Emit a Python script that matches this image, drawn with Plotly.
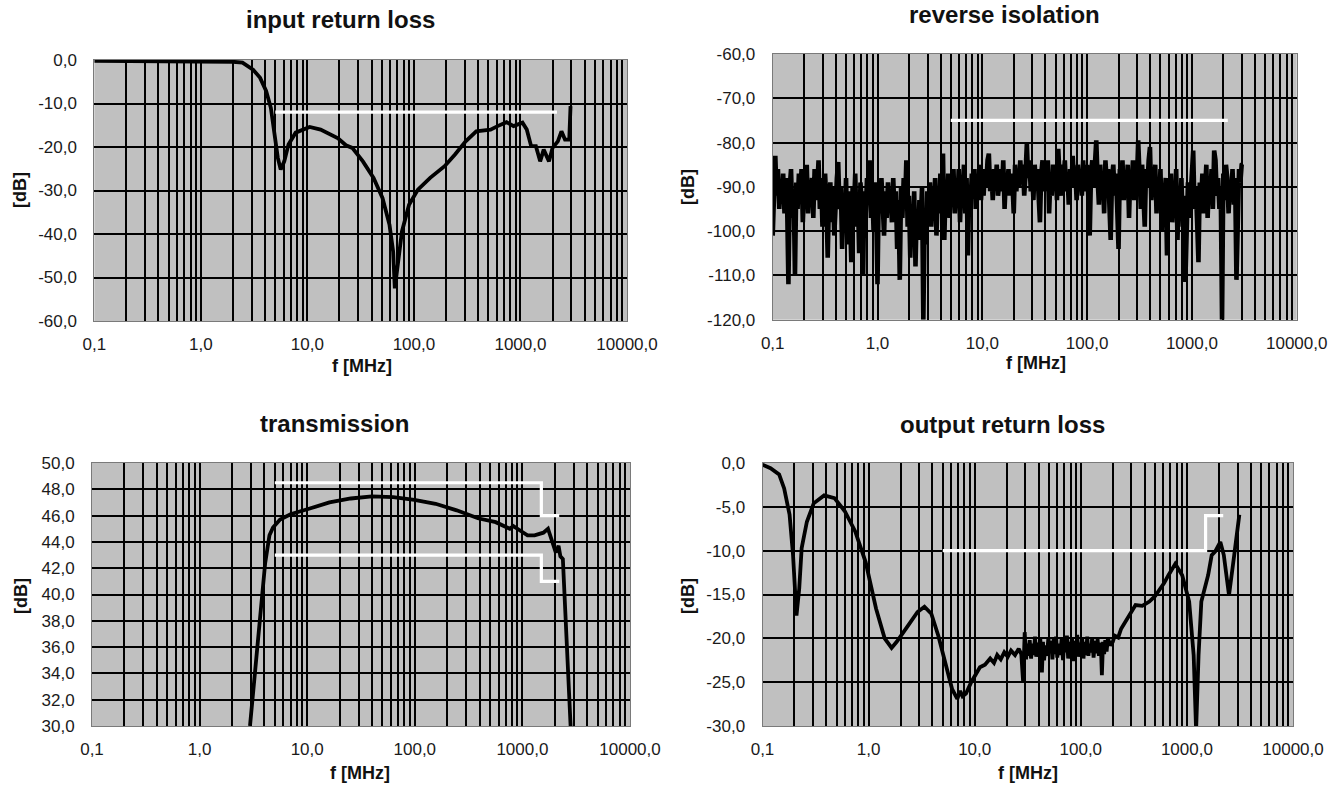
import plotly.graph_objects as go

W, H = 1341, 791

# ---------------- data ----------------
decade_vals = [0.1, 1, 10, 100, 1000, 10000]
decade_text = ["0,1", "1,0", "10,0", "100,0", "1000,0", "10000,0"]

# input return loss
irl_f = [0.1, 0.2, 0.5, 1.0, 1.5, 2.0, 2.46, 3.09, 3.6, 4.1, 4.54, 4.9, 5.28, 5.62, 6.07, 6.65,
         7.76, 10.5, 13.3, 19.4, 23.0, 26.4, 29.0, 33.2, 41.8, 50.7, 59, 63.8, 66.2, 70.4, 77.2,
         90, 109, 142, 194, 243, 306, 385, 524, 610, 740, 862, 1045, 1146, 1260, 1396, 1531,
         1652, 1853, 2001, 2243, 2425, 2618, 2870, 2951]
irl_db = [-0.2, -0.2, -0.2, -0.3, -0.3, -0.4, -0.6, -2.2, -4.1, -7.1, -11, -16.4, -22.5, -25.2,
          -23.3, -19.4, -16.7, -15.4, -16, -18, -19.6, -20.2, -21.4, -23.3, -27.1, -31.7, -37.9,
          -44, -52.5, -47.8, -39.4, -33.3, -29.8, -27.1, -24.4, -21.7, -18.7, -16.4, -16, -15.2,
          -14.3, -15.2, -14.4, -16, -19.8, -19.8, -23.3, -20.6, -23.3, -20.2, -18.7, -16.4,
          -18.3, -18.3, -10.6]
irl_spec_f = [5, 2200]
irl_spec_db = [-12, -12]

# reverse isolation
rev_f = [0.1000, 0.1029, 0.1059, 0.1090, 0.1122, 0.1155, 0.1189, 0.1223, 0.1259, 0.1296,
         0.1334, 0.1373, 0.1413, 0.1454, 0.1496, 0.1540, 0.1585, 0.1631, 0.1679, 0.1728,
         0.1778, 0.1830, 0.1884, 0.1939, 0.1995, 0.2054, 0.2113, 0.2175, 0.2239, 0.2304,
         0.2371, 0.2441, 0.2512, 0.2585, 0.2661, 0.2738, 0.2818, 0.2901, 0.2985, 0.3073,
         0.3162, 0.3255, 0.3350, 0.3447, 0.3548, 0.3652, 0.3758, 0.3868, 0.3981, 0.4097,
         0.4217, 0.4340, 0.4467, 0.4597, 0.4732, 0.4870, 0.5012, 0.5158, 0.5309, 0.5464,
         0.5623, 0.5788, 0.5957, 0.6131, 0.6310, 0.6494, 0.6683, 0.6879, 0.7079, 0.7286,
         0.7499, 0.7718, 0.7943, 0.8175, 0.8414, 0.8660, 0.8913, 0.9173, 0.9441, 0.9716,
         1.000, 1.029, 1.059, 1.090, 1.122, 1.155, 1.189, 1.223, 1.259, 1.296,
         1.334, 1.373, 1.413, 1.454, 1.496, 1.540, 1.585, 1.631, 1.679, 1.728,
         1.778, 1.830, 1.884, 1.939, 1.995, 2.054, 2.113, 2.175, 2.239, 2.304,
         2.371, 2.441, 2.512, 2.585, 2.661, 2.738, 2.818, 2.901, 2.985, 3.073,
         3.162, 3.255, 3.350, 3.447, 3.548, 3.652, 3.758, 3.868, 3.981, 4.097,
         4.217, 4.340, 4.467, 4.597, 4.732, 4.870, 5.012, 5.158, 5.309, 5.464,
         5.623, 5.788, 5.957, 6.131, 6.310, 6.494, 6.683, 6.879, 7.079, 7.286,
         7.499, 7.718, 7.943, 8.175, 8.414, 8.660, 8.913, 9.173, 9.441, 9.716,
         10.00, 10.29, 10.59, 10.90, 11.22, 11.55, 11.89, 12.23, 12.59, 12.96,
         13.34, 13.73, 14.13, 14.54, 14.96, 15.40, 15.85, 16.31, 16.79, 17.28,
         17.78, 18.30, 18.84, 19.39, 19.95, 20.54, 21.13, 21.75, 22.39, 23.04,
         23.71, 24.41, 25.12, 25.85, 26.61, 27.38, 28.18, 29.01, 29.85, 30.73,
         31.62, 32.55, 33.50, 34.47, 35.48, 36.52, 37.58, 38.68, 39.81, 40.97,
         42.17, 43.40, 44.67, 45.97, 47.32, 48.70, 50.12, 51.58, 53.09, 54.64,
         56.23, 57.88, 59.57, 61.31, 63.10, 64.94, 66.83, 68.79, 70.79, 72.86,
         74.99, 77.18, 79.43, 81.75, 84.14, 86.60, 89.13, 91.73, 94.41, 97.16,
         100.0, 102.9, 105.9, 109.0, 112.2, 115.5, 118.9, 122.3, 125.9, 129.6,
         133.4, 137.3, 141.3, 145.4, 149.6, 154.0, 158.5, 163.1, 167.9, 172.8,
         177.8, 183.0, 188.4, 193.9, 199.5, 205.4, 211.3, 217.5, 223.9, 230.4,
         237.1, 244.1, 251.2, 258.5, 266.1, 273.8, 281.8, 290.1, 298.5, 307.3,
         316.2, 325.5, 335.0, 344.7, 354.8, 365.2, 375.8, 386.8, 398.1, 409.7,
         421.7, 434.0, 446.7, 459.7, 473.2, 487.0, 501.2, 515.8, 530.9, 546.4,
         562.3, 578.8, 595.7, 613.1, 631.0, 649.4, 668.3, 687.9, 707.9, 728.6,
         749.9, 771.8, 794.3, 817.5, 841.4, 866.0, 891.3, 917.3, 944.1, 971.6,
         1000, 1029, 1059, 1090, 1122, 1155, 1189, 1223, 1259, 1296,
         1334, 1373, 1413, 1454, 1496, 1540, 1585, 1631, 1679, 1728,
         1778, 1830, 1884, 1939, 1995, 2054, 2113, 2175, 2239, 2304,
         2371, 2441, 2512, 2585, 2661, 2738, 2818, 2901, 2985, 3073]
rev_db = [-101, -88, -83, -92, -86, -95, -89, -93, -87, -96,
          -88, -94, -112, -90, -86, -97, -91, -110, -89, -95,
          -87, -93, -86, -98, -90, -94, -85, -96, -89, -92,
          -88, -97, -86, -93, -90, -84, -95, -88, -99, -91,
          -87, -94, -106, -92, -89, -98, -90, -101, -93, -88,
          -84.4, -95, -90, -104, -92, -97, -88, -103, -91, -96,
          -107, -90, -95, -87, -99, -92, -105, -89, -94, -110,
          -91, -96, -88, -93, -84, -97, -90, -100, -89, -95,
          -112, -90, -96, -88, -94, -101, -91, -97, -89, -95,
          -92, -98, -88, -96, -91, -104, -93, -111, -90, -97,
          -88, -95, -84, -99, -92, -106, -94, -100, -91, -108,
          -95, -102, -93, -98, -90, -120, -97, -103, -91, -96,
          -89, -99, -92, -95, -88, -101, -91, -96, -87, -94,
          -82.5, -102, -90, -95, -87, -97, -89, -93, -86, -96,
          -90, -94, -86, -98, -89, -92, -85, -96, -88, -105.5,
          -91, -94, -87, -92, -86, -95, -89, -91, -85, -93,
          -88, -92, -86, -90, -84, -82.5, -91, -87, -93, -86,
          -90, -85, -92, -88, -86, -91, -84, -95, -88, -90,
          -86, -92, -87, -89, -96, -85, -91, -86, -90, -84,
          -89, -85, -92, -87, -80.3, -88, -84, -91, -86, -93,
          -85, -90, -86, -92, -98, -87, -84, -91, -86, -89,
          -84, -96, -88, -92, -85, -90, -86, -93, -81.4, -88,
          -92, -85, -89, -84, -91, -87, -94, -86, -90, -83,
          -89, -86, -93, -85, -90, -87, -92, -84, -91, -88,
          -85, -93, -101, -87, -84, -90, -86, -79.5, -88, -94,
          -85, -91, -87, -96, -84, -89, -86, -93, -102, -88,
          -85, -92, -87, -95, -104, -86, -90, -84, -93, -88,
          -91, -85, -97, -87, -90, -84, -93, -86, -89, -79.5,
          -88, -95, -85, -91, -99, -86, -90, -84, -81, -93,
          -87, -92, -85, -96, -89, -94, -86, -100, -90, -93,
          -88, -105.5, -90, -95, -87, -98, -91, -94, -86, -102,
          -90, -96, -88, -99, -92, -111.5, -94, -89, -97, -91,
          -86, -81.8, -95, -90, -98, -107, -89, -94, -87, -96,
          -91, -85, -97, -88, -93, -86, -95, -81.8, -84, -92,
          -88, -95, -90, -120, -87, -93, -85, -88, -96, -89,
          -92, -86, -94, -88, -111, -90, -86, -89, -85, -84.8]
rev_spec_f = [5, 2200]
rev_spec_db = [-75, -75]

# transmission
tr_f = [2.94, 3.3, 3.69, 4.07, 4.46, 4.81, 5.6, 7.0, 10.2, 16.1, 25.4, 40, 63, 99, 156, 245,
        386, 565, 763, 824, 959, 1115, 1297, 1567, 1729, 1863, 2042, 2168, 2254, 2377, 2466,
        2600, 2805]
tr_db = [30, 34.3, 39.1, 42.4, 44.5, 45.1, 45.7, 46.1, 46.5, 47.0, 47.3, 47.46, 47.4, 47.2,
         46.9, 46.4, 45.8, 45.5, 45.0, 45.2, 44.85, 44.5, 44.5, 44.7, 45.0, 44.2, 43.2, 43.7,
         42.9, 42.7, 39.9, 35.3, 30]
tr_spec_hi_f = [5, 1500, 1500, 2200]
tr_spec_hi_db = [48.5, 48.5, 46, 46]
tr_spec_lo_f = [5, 1500, 1500, 2200]
tr_spec_lo_db = [43, 43, 41, 41]

# output return loss
orl_f = [0.1, 0.119, 0.1435, 0.160, 0.18, 0.194, 0.209, 0.222, 0.234, 0.262, 0.304, 0.381,
         0.477, 0.597, 0.748, 0.938, 1.175, 1.417, 1.647, 1.84, 2.31, 2.89, 3.36, 3.9, 4.54,
         5.27, 6.13, 6.86, 7.3, 7.68, 8.28, 9.27, 10.2, 11.2, 12.5, 14, 15.2, 16.3, 17.6, 19,
         20.5, 22, 24, 26, 27.5, 28.6, 29.6, 30.5, 31.2, 32, 33, 34, 35, 36, 37, 38, 39, 40,
         41.5, 43, 44, 45, 46.5, 48, 49.5, 51, 52.5, 54, 55.5, 57, 58.5, 60, 62, 64, 66, 68,
         70, 72, 74, 76, 78, 80, 82.5, 85, 87.5, 90, 92.5, 95, 97.5, 100, 103, 106, 109, 112,
         115, 118, 121, 125, 128, 132, 136, 140, 144, 148, 152, 155, 158, 162, 166, 170, 175,
         180, 190, 200, 209, 225, 240, 262, 290, 328, 380, 443, 500, 555, 610, 670, 777, 903,
         1050, 1158, 1221, 1288, 1368, 1585, 1713, 1845, 2066, 2228, 2494, 2793, 3120]
orl_db = [-0.2, -0.6, -1.3, -2.9, -5.9, -10.5, -17.4, -14.3, -9.7, -6.7, -4.6, -3.7, -4.0,
          -5.5, -7.8, -11.3, -16.6, -20.0, -21.1, -20.4, -18.7, -17.0, -16.4, -17.2, -19.7,
          -22.7, -25.8, -26.9, -26.0, -26.6, -26.3, -25.0, -24.2, -23.3, -23.0, -22.3, -22.8,
          -21.9, -22.4, -21.6, -22.1, -21.4, -21.9, -21.2, -21.8, -25.0, -19.3, -22.4, -20.6,
          -22.0, -20.2, -22.3, -20.6, -21.9, -19.8, -22.1, -20.5, -21.6, -20.0, -23.9, -20.4,
          -22.5, -20.8, -22.0, -19.9, -21.7, -20.3, -22.4, -20.1, -21.8, -19.8, -22.2, -20.6,
          -21.9, -20.0, -22.5, -20.2, -21.6, -19.7, -22.3, -20.4, -21.8, -19.9, -22.6, -20.3,
          -21.5, -19.6, -22.1, -20.5, -21.4, -20.0, -22.3, -20.4, -21.9, -19.8, -22.0, -20.6,
          -21.6, -19.9, -22.2, -20.3, -21.7, -20.1, -22.0, -20.5, -21.2, -24.2, -20.4, -21.8,
          -20.2, -21.5, -20.0, -20.8, -20.4, -19.7, -19.9, -18.9, -18.1, -17.3, -16.2, -16.3,
          -15.8, -15.2, -14.5, -13.7, -12.8, -11.5, -12.8, -15.8, -21.9, -30.5, -21.9, -15.8,
          -12.8, -10.5, -10.1, -9.0, -10.5, -15.1, -10.5, -5.9]
orl_spec_f = [5, 1500, 1500, 2200]
orl_spec_db = [-10, -10, -6, -6]

# axis ticks per panel
irl_yticks = [-60, -50, -40, -30, -20, -10, 0]
irl_ytext = ["-60,0", "-50,0", "-40,0", "-30,0", "-20,0", "-10,0", "0,0"]
rev_yticks = [-120, -110, -100, -90, -80, -70, -60]
rev_ytext = ["-120,0", "-110,0", "-100,0", "-90,0", "-80,0", "-70,0", "-60,0"]
tr_yticks = [30, 32, 34, 36, 38, 40, 42, 44, 46, 48, 50]
tr_ytext = ["30,0", "32,0", "34,0", "36,0", "38,0", "40,0", "42,0", "44,0", "46,0", "48,0", "50,0"]
orl_yticks = [-30, -25, -20, -15, -10, -5, 0]
orl_ytext = ["-30,0", "-25,0", "-20,0", "-15,0", "-10,0", "-5,0", "0,0"]

titles = ["input return loss", "reverse isolation", "transmission", "output return loss"]

# ---------------- layout helpers ----------------
FONT = "Liberation Sans, Arial, sans-serif"
minor_vals = [m * 10 ** e for e in range(-1, 4) for m in range(2, 10)]

# plot areas in pixels: left, right, top, bottom
boxes = [(94.3, 627, 60, 321), (772.7, 1296.7, 54, 319.7),
         (92, 630, 463, 726), (762.5, 1293, 463, 726)]
yranges = [(-60, 0), (-120, -60), (30, 50), (-30, 0)]
yticks = [(irl_yticks, irl_ytext), (rev_yticks, rev_ytext), (tr_yticks, tr_ytext),
          (orl_yticks, orl_ytext)]
title_pos = [(340, 19), (1004, 15), (334, 423), (1002, 424)]
xlab_pos = [(362, 366), (1036, 363), (360, 773), (1028, 773)]
ylab_pos = [(20, 190), (688, 187), (21, 596), (688, 596)]
line_widths = [3.8, 4.6, 3.8, 3.8]

fig = go.Figure()

series = [
    [(irl_f, irl_db, "black"), (irl_spec_f, irl_spec_db, "white")],
    [(rev_f, rev_db, "black"), (rev_spec_f, rev_spec_db, "white")],
    [(tr_f, tr_db, "black"), (tr_spec_hi_f, tr_spec_hi_db, "white"),
     (tr_spec_lo_f, tr_spec_lo_db, "white")],
    [(orl_f, orl_db, "black"), (orl_spec_f, orl_spec_db, "white")],
]

for i in range(4):
    xa = "x" if i == 0 else f"x{i+1}"
    ya = "y" if i == 0 else f"y{i+1}"
    for xs, ys, col in series[i]:
        fig.add_trace(go.Scatter(x=xs, y=ys, mode="lines", xaxis=xa, yaxis=ya,
                                 line=dict(color=col,
                                           width=line_widths[i] if col == "black" else 3.2),
                                 showlegend=False, hoverinfo="skip"))
    l, r, t, b = boxes[i]
    xkey = "xaxis" if i == 0 else f"xaxis{i+1}"
    ykey = "yaxis" if i == 0 else f"yaxis{i+1}"
    fig.update_layout(**{
        xkey: dict(type="log", range=[-1, 4], domain=[l / W, r / W], anchor=ya,
                   automargin=False,
                   tickvals=decade_vals, ticktext=decade_text,
                   showgrid=True, gridcolor="#000000", gridwidth=1.8,
                   minor=dict(tickvals=minor_vals, showgrid=True, gridcolor="#000000",
                              gridwidth=1.7, ticks=""),
                   showline=True, linecolor="#7a7a7a", linewidth=1, mirror=True,
                   zeroline=False, ticks="outside", ticklen=8, tickcolor="rgba(0,0,0,0)",
                   tickfont=dict(family=FONT, size=17, color="#1a1a1a"), fixedrange=True),
        ykey: dict(range=list(yranges[i]), domain=[1 - b / H, 1 - t / H], anchor=xa,
                   automargin=False,
                   tickvals=yticks[i][0], ticktext=yticks[i][1],
                   showgrid=True, gridcolor="#000000", gridwidth=1.8,
                   showline=True, linecolor="#7a7a7a", linewidth=1, mirror=True,
                   zeroline=False, ticks="outside", ticklen=13, tickcolor="rgba(0,0,0,0)",
                   tickfont=dict(family=FONT, size=17, color="#1a1a1a"), fixedrange=True),
    })

annotations = []
for i in range(4):
    tx, ty = title_pos[i]
    annotations.append(dict(text=f"<b>{titles[i]}</b>", x=tx / W, y=1 - ty / H,
                            xref="paper", yref="paper", showarrow=False,
                            xanchor="center", yanchor="middle",
                            font=dict(family=FONT, size=24, color="#111111")))
    lx, ly = xlab_pos[i]
    annotations.append(dict(text="<b>f [MHz]</b>", x=lx / W, y=1 - ly / H,
                            xref="paper", yref="paper", showarrow=False,
                            xanchor="center", yanchor="middle",
                            font=dict(family=FONT, size=18, color="#111111")))
    yx, yy = ylab_pos[i]
    annotations.append(dict(text="<b>[dB]</b>", x=yx / W, y=1 - yy / H,
                            xref="paper", yref="paper", showarrow=False, textangle=-90,
                            xanchor="center", yanchor="middle",
                            font=dict(family=FONT, size=18, color="#111111")))

fig.update_layout(width=W, height=H, margin=dict(l=0, r=0, t=0, b=0, autoexpand=False),
                  paper_bgcolor="white", plot_bgcolor="#c0c0c0",
                  annotations=annotations, showlegend=False)

fig.write_html("out.html", config={"displayModeBar": False},
               post_script="document.documentElement.style.margin='0';"
                           "document.body.style.margin='0';"
                           "document.body.style.padding='0';"
                           "document.documentElement.style.overflow='hidden';"
                           "document.body.style.overflow='hidden';")
